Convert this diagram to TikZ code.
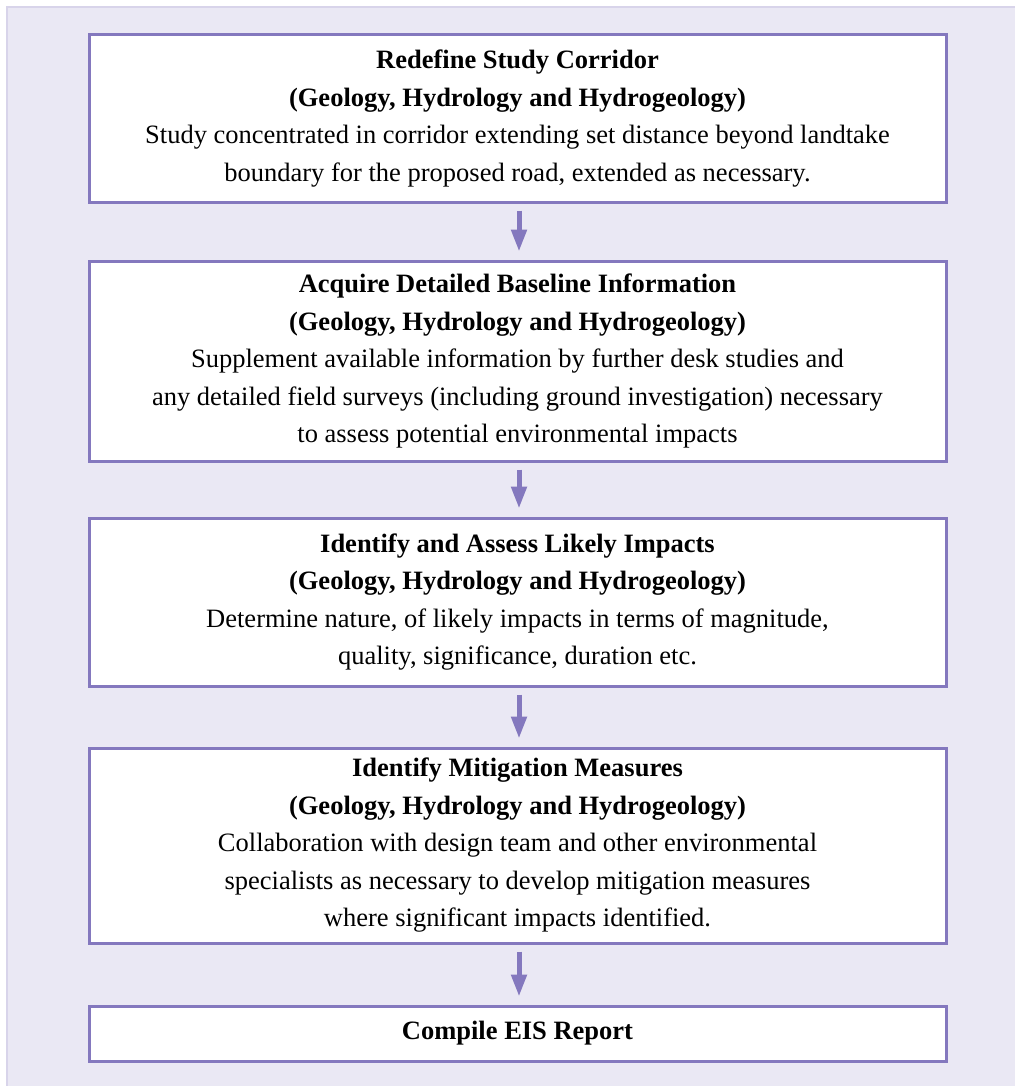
\documentclass[tikz,border=0pt]{standalone}
\usepackage{fontspec}
\setmainfont{Liberation Serif}
\usetikzlibrary{arrows.meta}
\definecolor{panel}{HTML}{EAE8F4}
\definecolor{panelline}{HTML}{D8D4EA}
\definecolor{boxline}{HTML}{8478BE}
\tikzset{
  stage/.style={draw=boxline, line width=3pt, fill=white, minimum width=857pt,
    align=center, inner sep=0pt, font=\fontsize{26.5}{37.5}\selectfont},
  flow/.style={draw=boxline, line width=5pt,
    -{Triangle[width=15pt,length=22pt]}}
}
\begin{document}
\begin{tikzpicture}[x=1pt, y=-1pt]
\useasboundingbox (0,0) rectangle (1015,1086);
\fill[panel] (7,7) rectangle (1015,1086);
\draw[panelline, line width=2pt] (7,1086) -- (7,7) -- (1015,7);
\node[stage, minimum height=167pt] (Corridor) at (517.5,118.5)
  {\textbf{Redefine Study Corridor}\\
   \textbf{(Geology, Hydrology and Hydrogeology)}\\
   Study concentrated in corridor extending set distance beyond landtake\\
   boundary for the proposed road, extended as necessary.};
\node[stage, minimum height=200pt] (Baseline) at (517.5,361)
  {\textbf{Acquire Detailed Baseline Information}\\
   \textbf{(Geology, Hydrology and Hydrogeology)}\\
   Supplement available information by further desk studies and\\
   any detailed field surveys (including ground investigation) necessary\\
   to assess potential environmental impacts};
\node[stage, minimum height=168pt] (Impacts) at (517.5,602)
  {\textbf{Identify and Assess Likely Impacts}\\
   \textbf{(Geology, Hydrology and Hydrogeology)}\\
   Determine nature, of likely impacts in terms of magnitude,\\
   quality, significance, duration etc.};
\node[stage, minimum height=195pt] (Mitigation) at (517.5,845.5)
  {\textbf{Identify Mitigation Measures}\\
   \textbf{(Geology, Hydrology and Hydrogeology)}\\
   Collaboration with design team and other environmental\\
   specialists as necessary to develop mitigation measures\\
   where significant impacts identified.};
\node[stage, minimum height=55pt] (Report) at (517.5,1033.5)
  {\textbf{Compile EIS Report}};
\draw[flow] ([xshift=1.5pt,yshift=-7pt]Corridor.south) -- ([xshift=1.5pt,yshift=8pt]Baseline.north);
\draw[flow] ([xshift=1.5pt,yshift=-7pt]Baseline.south) -- ([xshift=1.5pt,yshift=8pt]Impacts.north);
\draw[flow] ([xshift=1.5pt,yshift=-7pt]Impacts.south) -- ([xshift=1.5pt,yshift=8pt]Mitigation.north);
\draw[flow] ([xshift=1.5pt,yshift=-7pt]Mitigation.south) -- ([xshift=1.5pt,yshift=8pt]Report.north);
\end{tikzpicture}
\end{document}
